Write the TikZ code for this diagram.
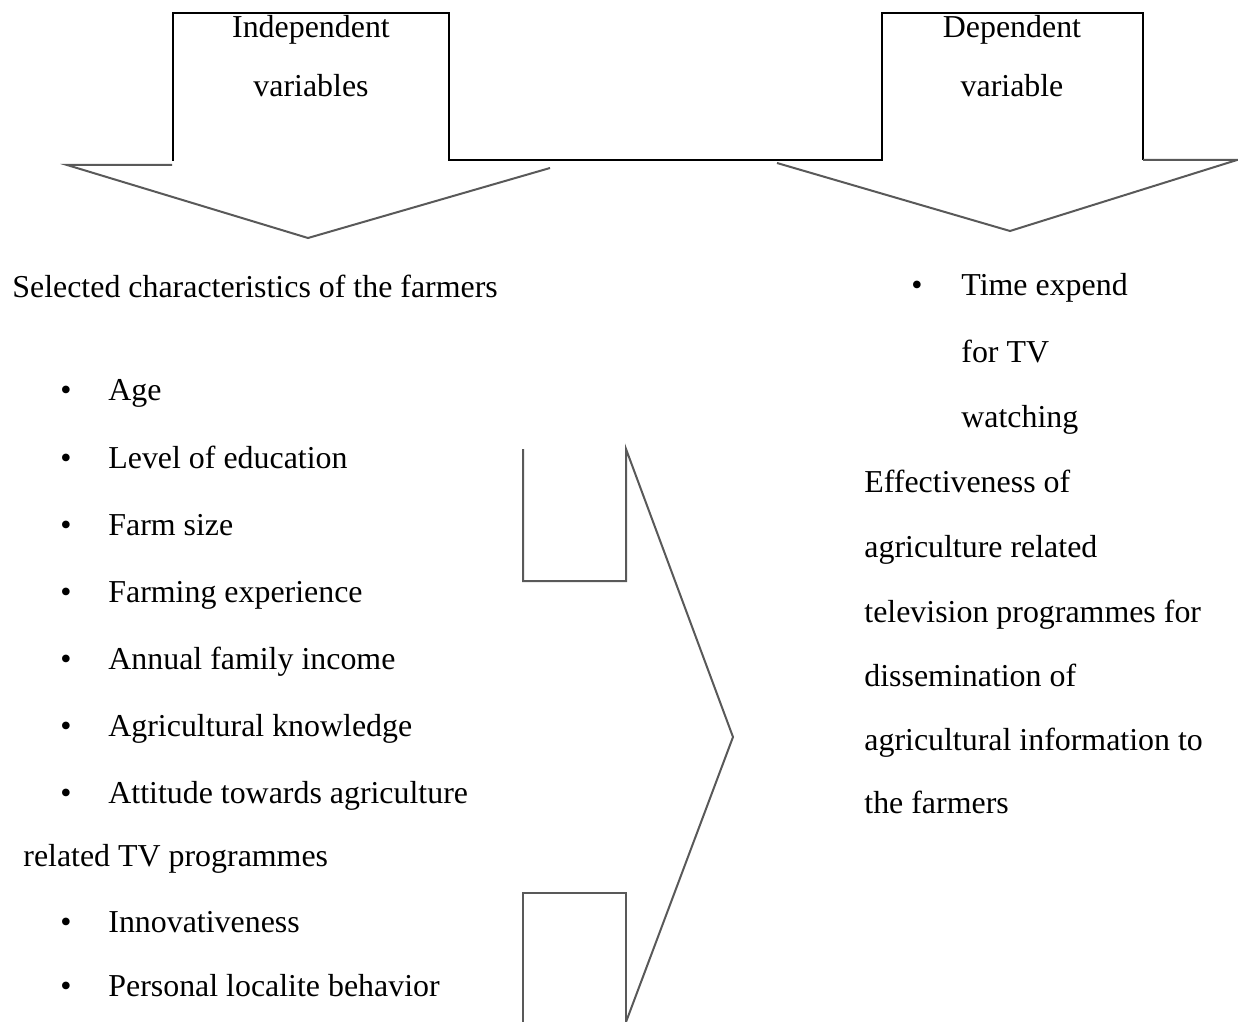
\documentclass[tikz,border=0pt]{standalone}
\usepackage{fontspec}
\setmainfont{Liberation Serif}
\newcommand\bul{\makebox[24pt][l]{\textbullet}}

\begin{document}
\begin{tikzpicture}[
  x=0.5pt, y=-0.5pt,
  every node/.style={inner sep=0pt,font=\fontsize{15.95}{19}\selectfont},
  head/.style={anchor=base},
  txt/.style={anchor=base west},
  box/.style={draw=black,line width=1.2pt},
  shade/.style={draw=black!65,line width=1pt},
]
  \useasboundingbox (0,0) rectangle (1238,1022);

  % Heading boxes
  \node[head] (indep) at (311,38) {Independent};
  \node[head] (indepb) at (311,97) {variables};
  \node[head] (dep) at (1012,38) {Dependent};
  \node[head] (depb) at (1012,97) {variable};
  \draw[box] (173,161) -- (173,13) -- (449,13) -- (449,160) -- (882,160)
    -- (882,13) -- (1143,13) -- (1143,160);

  % Arrow heads pointing down
  \draw[shade] (172,165) -- (67,165) -- (308,238) -- (550,168);
  \draw[shade] (1143,160) -- (1237,160) -- (1010,231) -- (777,163);

  % Arrow pointing right
  \draw[shade] (523,449) -- (523,581) -- (626,581) -- (626,449) -- (733,737) -- (626,1022);
  \draw[shade] (523,1022) -- (523,893) -- (626,893) -- (626,1022);

  % Independent variables
  \node[txt] (sel) at (12,297) {Selected characteristics of the farmers};
  \node[txt] (age) at (60,400) {\bul Age};
  \node[txt] (edu) at (60,468) {\bul Level of education};
  \node[txt] (farm) at (60,535) {\bul Farm size};
  \node[txt] (exp) at (60,602) {\bul Farming experience};
  \node[txt] (inc) at (60,669) {\bul Annual family income};
  \node[txt] (know) at (60,736) {\bul Agricultural knowledge};
  \node[txt] (att) at (60,803) {\bul Attitude towards agriculture};
  \node[txt] (attb) at (23,866) {related TV programmes};
  \node[txt] (innov) at (60,932) {\bul Innovativeness};
  \node[txt] (local) at (60,996) {\bul Personal localite behavior};

  % Dependent variable
  \node[txt] (time) at (911,295) {\makebox[25pt][l]{\textbullet}Time expend};
  \node[txt] (timeb) at (961,362) {for TV};
  \node[txt] (timec) at (961,427) {watching};
  \node[txt] (eff) at (864,492) {Effectiveness of};
  \node[txt] (effb) at (864,557) {agriculture related};
  \node[txt] (effc) at (864,622) {television programmes for};
  \node[txt] (effd) at (864,686) {dissemination of};
  \node[txt] (effe) at (864,750) {agricultural information to};
  \node[txt] (efff) at (864,813) {the farmers};
\end{tikzpicture}
\end{document}
